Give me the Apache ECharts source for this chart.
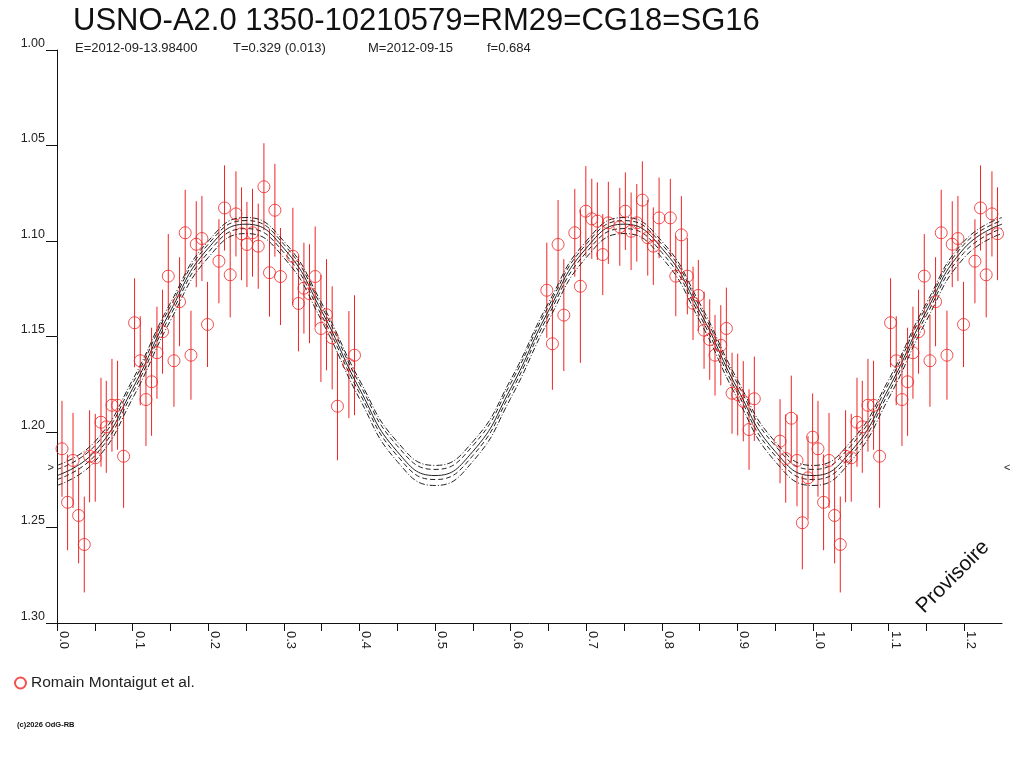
<!DOCTYPE html>
<html>
<head>
<meta charset="utf-8">
<title>USNO-A2.0 1350-10210579</title>
<script src="https://cdn.jsdelivr.net/npm/echarts@6/dist/echarts.min.js"></script>
<style>
  html, body { margin: 0; padding: 0; background: #fff; }
  #chart { width: 1024px; height: 768px; }
</style>
</head>
<body>
<div id="chart"></div>
<script>
// observations (phase, magnitude, error), Romain Montaigut et al.
var obsPhase = [
  0.0066, 0.0140, 0.0212, 0.0286, 0.0361, 0.0431, 0.0506, 0.0582, 0.0652, 0.0727,
  0.0801, 0.0881, 0.1026, 0.1101, 0.1177, 0.1251, 0.1322, 0.1396, 0.1472, 0.1547,
  0.1621, 0.1696, 0.1772, 0.1842, 0.1917, 0.1991, 0.2142, 0.2216, 0.2291, 0.2367,
  0.2441, 0.2512, 0.2586, 0.2662, 0.2737, 0.2811, 0.2882, 0.2956, 0.3120, 0.3194,
  0.3266, 0.3340, 0.3415, 0.3491, 0.3565, 0.3640, 0.3710, 0.3861, 0.3935,
  0.6479, 0.6553, 0.6628, 0.6704, 0.6849, 0.6923, 0.6995, 0.7074, 0.7148, 0.7219,
  0.7293, 0.7444, 0.7518, 0.7594, 0.7669, 0.7743, 0.7814, 0.7888, 0.7964, 0.8113,
  0.8185, 0.8259, 0.8338, 0.8413, 0.8483, 0.8559, 0.8634, 0.8704, 0.8780, 0.8854,
  0.8929, 0.9004, 0.9078, 0.9154, 0.9224, 0.9564, 0.9639, 0.9713, 0.9788, 0.9859,
  0.9934, 0.9995
];
var obsMag = [
  1.2088, 1.2368, 1.2149, 1.2437, 1.2589, 1.2127, 1.2135, 1.1949, 1.1973, 1.1860,
  1.1860, 1.2127, 1.1428, 1.1627, 1.1830, 1.1737, 1.1585, 1.1475, 1.1184, 1.1627,
  1.1318, 1.0957, 1.1598, 1.1017, 1.0987, 1.1437, 1.1106, 1.0827, 1.1177, 1.0858,
  1.0962, 1.1018, 1.0957, 1.1027, 1.0716, 1.1166, 1.0839, 1.1186, 1.1080, 1.1327,
  1.1247, 1.1276, 1.1186, 1.1458, 1.1386, 1.1507, 1.1865, 1.1647, 1.1598,
  1.1258, 1.1538, 1.1018, 1.1388, 1.0957, 1.1237, 1.0844, 1.0884, 1.0896, 1.1071,
  1.0905, 1.0926, 1.0844, 1.0949, 1.0905, 1.0786, 1.0983, 1.1027, 1.0879, 1.0879,
  1.1184, 1.0968, 1.1184, 1.1326, 1.1285, 1.1467, 1.1516, 1.1598, 1.1546, 1.1458,
  1.1797, 1.1804, 1.1839, 1.1987, 1.1826, 1.2048, 1.2139, 1.1928, 1.2149, 1.2475,
  1.2240, 1.2027
];
var obsErr = [
  0.0251, 0.0251, 0.0249, 0.0251, 0.0251, 0.0241, 0.0230, 0.0233, 0.0241, 0.0243,
  0.0233, 0.0270, 0.0233, 0.0233, 0.0243, 0.0283, 0.0241, 0.0220, 0.0220, 0.0241,
  0.0233, 0.0225, 0.0233, 0.0225, 0.0223, 0.0223, 0.0220, 0.0223, 0.0223, 0.0223,
  0.0243, 0.0223, 0.0230, 0.0223, 0.0228, 0.0230, 0.0243, 0.0254, 0.0254, 0.0251,
  0.0238, 0.0259, 0.0262, 0.0280, 0.0291, 0.0270, 0.0283, 0.0280, 0.0314,
  0.0249, 0.0241, 0.0233, 0.0293, 0.0230, 0.0401, 0.0236, 0.0210, 0.0203, 0.0212,
  0.0215, 0.0204, 0.0203, 0.0203, 0.0203, 0.0203, 0.0198, 0.0203, 0.0211, 0.0204,
  0.0210, 0.0203, 0.0200, 0.0192, 0.0186, 0.0202, 0.0211, 0.0211, 0.0210, 0.0214,
  0.0212, 0.0214, 0.0210, 0.0211, 0.0221, 0.0220, 0.0231, 0.0223, 0.0240, 0.0244,
  0.0218, 0.0229
];

// fitted light curve and its envelopes, read every 0.05 in phase
var fitPhase = [
  0.00, 0.05, 0.10, 0.15, 0.20, 0.25, 0.30, 0.35, 0.40, 0.45,
  0.50, 0.55, 0.60, 0.65, 0.70, 0.75, 0.80, 0.85, 0.90, 0.95,
  1.00, 1.05, 1.10, 1.15, 1.20, 1.25
];
var fitMid = [
  1.2228, 1.2102, 1.1773, 1.1367, 1.1038, 1.0912, 1.1038, 1.1367, 1.1773, 1.2102,
  1.2228, 1.2102, 1.1773, 1.1367, 1.1038, 1.0912, 1.1038, 1.1367, 1.1773, 1.2102,
  1.2228, 1.2102, 1.1773, 1.1367, 1.1038, 1.0912
];
var fitUp1 = [
  1.2196, 1.2072, 1.1746, 1.1343, 1.1017, 1.0893, 1.1017, 1.1343, 1.1746, 1.2072,
  1.2196, 1.2072, 1.1746, 1.1343, 1.1017, 1.0893, 1.1017, 1.1343, 1.1746, 1.2072,
  1.2196, 1.2072, 1.1746, 1.1343, 1.1017, 1.0893
];
var fitUp2 = [
  1.2175, 1.2051, 1.1727, 1.1325, 1.1001, 1.0877, 1.1001, 1.1325, 1.1727, 1.2051,
  1.2175, 1.2051, 1.1727, 1.1325, 1.1001, 1.0877, 1.1001, 1.1325, 1.1727, 1.2051,
  1.2175, 1.2051, 1.1727, 1.1325, 1.1001, 1.0877
];
var fitLow1 = [
  1.2249, 1.2124, 1.1795, 1.1389, 1.1060, 1.0935, 1.1060, 1.1389, 1.1795, 1.2124,
  1.2249, 1.2124, 1.1795, 1.1389, 1.1060, 1.0935, 1.1060, 1.1389, 1.1795, 1.2124,
  1.2249, 1.2124, 1.1795, 1.1389, 1.1060, 1.0935
];
var fitLow2 = [
  1.2280, 1.2154, 1.1824, 1.1417, 1.1087, 1.0961, 1.1087, 1.1417, 1.1824, 1.2154,
  1.2280, 1.2154, 1.1824, 1.1417, 1.1087, 1.0961, 1.1087, 1.1417, 1.1824, 1.2154,
  1.2280, 1.2154, 1.1824, 1.1417, 1.1087, 1.0961
];

var markerMag = 1.2188;

var titleText = 'USNO-A2.0 1350-10210579=RM29=CG18=SG16';
var infoTexts = ['E=2012-09-13.98400', 'T=0.329 (0.013)', 'M=2012-09-15', 'f=0.684'];
var seriesName = 'Romain Montaigut et al.';

var FONT = '"Liberation Sans", Arial, sans-serif';
var RED = '#f02424';
var INK = '#222';

// phases below 0.25 are repeated one cycle later
var points = [];
for (var i = 0; i < obsPhase.length; i++) {
  points.push([obsPhase[i], obsMag[i], obsErr[i]]);
  if (obsPhase[i] + 1 <= 1.25) points.push([obsPhase[i] + 1, obsMag[i], obsErr[i]]);
}

function curve(vals) {
  return fitPhase.map(function (p, k) { return [p, vals[k]]; });
}

function fitSeries(vals, type) {
  return {
    type: 'line', data: curve(vals), smooth: 0.5, showSymbol: false, silent: true,
    lineStyle: { color: INK, width: 1, type: type }, z: 3
  };
}

var chart = echarts.init(document.getElementById('chart'), null, { renderer: 'canvas' });

var option = {
  animation: false,
  backgroundColor: '#fff',
  textStyle: { fontFamily: FONT },
  title: {
    text: titleText, left: 73, top: 6, padding: 0,
    textStyle: { fontSize: 31, fontWeight: 'normal', color: '#111', fontFamily: FONT }
  },
  legend: {
    left: 14, top: 675, padding: 0, itemWidth: 11, itemHeight: 11, itemGap: 6,
    data: [{ name: seriesName, icon: 'circle' }],
    textStyle: { fontSize: 15.5, color: INK, fontFamily: FONT }
  },
  grid: { left: 57, right: 22, top: 50, bottom: 145, containLabel: false },
  xAxis: {
    type: 'value', min: 0, max: 1.25, interval: 0.05,
    axisLine: { lineStyle: { color: '#111', width: 1 } },
    axisTick: { length: 8, lineStyle: { color: '#111' } },
    splitLine: { show: false },
    axisLabel: {
      rotate: -90, margin: 8, fontSize: 13, color: INK, fontFamily: FONT,
      verticalAlign: 'bottom', showMaxLabel: false,
      formatter: function (v) {
        return Math.round(v * 100) % 10 === 0 ? v.toFixed(1) : '';
      }
    }
  },
  yAxis: {
    type: 'value', inverse: true, min: 1.0, max: 1.3, interval: 0.05,
    axisLine: { show: true, lineStyle: { color: '#111', width: 1 } },
    axisTick: { show: true, length: 11, lineStyle: { color: '#111' } },
    splitLine: { show: false },
    axisLabel: {
      margin: 12, fontSize: 12.5, color: INK, fontFamily: FONT,
      verticalAlign: 'bottom',
      formatter: function (v) { return v.toFixed(2); }
    }
  },
  series: [
    fitSeries(fitUp2, [6, 2, 1, 2]),
    fitSeries(fitUp1, [5, 3]),
    fitSeries(fitMid, 'solid'),
    fitSeries(fitLow1, [5, 3]),
    fitSeries(fitLow2, [6, 2, 1, 2]),
    {
      type: 'custom', silent: true, clip: true, z: 2,
      data: points,
      encode: { x: 0, y: 1 },
      renderItem: function (params, api) {
        var p = api.value(0), m = api.value(1), e = api.value(2);
        var a = api.coord([p, m - e]);
        var b = api.coord([p, m + e]);
        return {
          type: 'line',
          shape: { x1: a[0], y1: a[1], x2: b[0], y2: b[1] },
          style: { stroke: RED, lineWidth: 1 }
        };
      }
    },
    {
      name: seriesName, type: 'scatter', data: points, symbol: 'circle', symbolSize: 12,
      z: 4, silent: true,
      itemStyle: { color: 'rgba(255,255,255,0)', borderColor: RED, borderWidth: 1 }
    }
  ]
};

chart.setOption(option);

var infoX = [75, 233, 368, 487];
var graphics = infoTexts.map(function (t, k) {
  return {
    type: 'text', left: infoX[k], top: 42,
    style: { text: t, font: '13px ' + FONT, fill: INK }
  };
});
graphics.push({
  type: 'text', left: 17, top: 721,
  style: { text: '(c)2026 OdG-RB', font: 'bold 7.5px ' + FONT, fill: '#111' }
});
graphics.push({
  type: 'text', x: 953, y: 577, rotation: Math.PI / 4,
  style: { text: 'Provisoire', font: '21px ' + FONT, fill: '#111', align: 'center', verticalAlign: 'middle' }
});
var leftMark = chart.convertToPixel({ gridIndex: 0 }, [0, markerMag]);
var rightMark = chart.convertToPixel({ gridIndex: 0 }, [1.25, markerMag]);
graphics.push({
  type: 'text', x: leftMark[0] - 3, y: leftMark[1],
  style: { text: '>', font: '11px ' + FONT, fill: INK, align: 'right', verticalAlign: 'middle' }
});
graphics.push({
  type: 'text', x: rightMark[0] + 2, y: rightMark[1],
  style: { text: '<', font: '11px ' + FONT, fill: INK, align: 'left', verticalAlign: 'middle' }
});
chart.setOption({ graphic: graphics });
</script>
</body>
</html>
